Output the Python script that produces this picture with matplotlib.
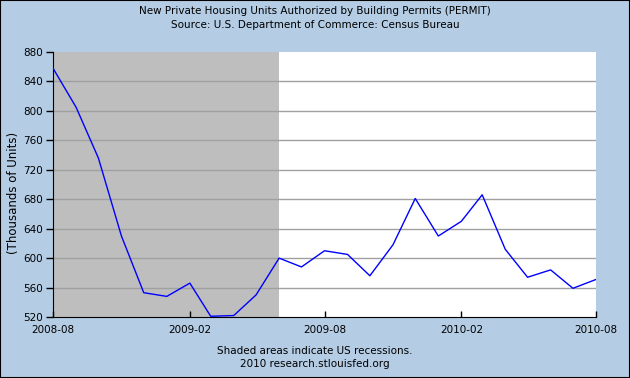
"""
Building permits chart (PERMIT), FRED style, 2008-08 to 2010-08
"""

import pandas as pd
import matplotlib
matplotlib.use("Agg")
import matplotlib.pyplot as plt
import matplotlib.dates as mdates
from matplotlib.patches import Rectangle

# data
months = pd.date_range("2008-08-01", "2010-08-01", freq="MS")
permits = [858, 805, 736, 630, 553, 548, 566, 521, 522, 550, 600, 588, 610,
           605, 576, 618, 681, 630, 650, 686, 612, 574, 584, 559, 571]
recession_start = pd.Timestamp("2008-08-01")
recession_end = pd.Timestamp("2009-06-01")
y_ticks = [520, 560, 600, 640, 680, 720, 760, 800, 840, 880]
x_tick_dates = pd.to_datetime(["2008-08-01", "2009-02-01", "2009-08-01",
                               "2010-02-01", "2010-08-01"])

BG = "#B4CCE4"
FONT = {"family": "DejaVu Sans", "size": 7.5}

fig = plt.figure(figsize=(6.3, 3.78), dpi=100, facecolor=BG)
ax = fig.add_axes([53 / 630, 1 - 317 / 378, 543 / 630, 265 / 378])
ax.set_facecolor("white")

# Rezession
ax.axvspan(recession_start, recession_end, color="#BEBEBE", lw=0, zorder=0)

for y in y_ticks[1:-1]:
    ax.axhline(y, color="#A0A0A0", lw=1, zorder=1)

ax.plot(months, permits, color="#0000FF", lw=1, zorder=3)

ax.set_xlim(months[0], months[-1])
ax.set_ylim(520, 880)
ax.set_yticks(y_ticks)
ax.set_xticks(x_tick_dates)
ax.xaxis.set_major_formatter(mdates.DateFormatter("%Y-%m"))

for side in ("top", "right"):
    ax.spines[side].set_visible(False)
ax.spines["left"].set_color("black")
ax.spines["bottom"].set_color("black")
ax.tick_params(axis="y", direction="out", length=5, width=1, pad=2)
ax.tick_params(axis="x", direction="in", length=4, width=1, pad=6)
for lbl in ax.get_xticklabels() + ax.get_yticklabels():
    lbl.set_fontfamily(FONT["family"])
    lbl.set_fontsize(FONT["size"])

ax.set_ylabel("(Thousands of Units)", family="DejaVu Sans", fontsize=8.5)
ax.yaxis.set_label_coords(-0.061, 0.47)

fig.text(0.5, 1 - 11 / 378, "New Private Housing Units Authorized by Building Permits (PERMIT)",
         ha="center", va="center", fontdict=FONT)
fig.text(0.5, 1 - 25 / 378, "Source: U.S. Department of Commerce: Census Bureau",
         ha="center", va="center", fontdict=FONT)
fig.text(0.5, 1 - 351 / 378, "Shaded areas indicate US recessions.",
         ha="center", va="center", fontdict=FONT)
fig.text(0.5, 1 - 364 / 378, "2010 research.stlouisfed.org",
         ha="center", va="center", fontdict=FONT)

# Rahmen
fig.patches.append(Rectangle((0, 0), 1, 1, transform=fig.transFigure,
                             fill=False, edgecolor="black", lw=1.5))

fig.savefig("out.png", dpi=100, facecolor=BG)
